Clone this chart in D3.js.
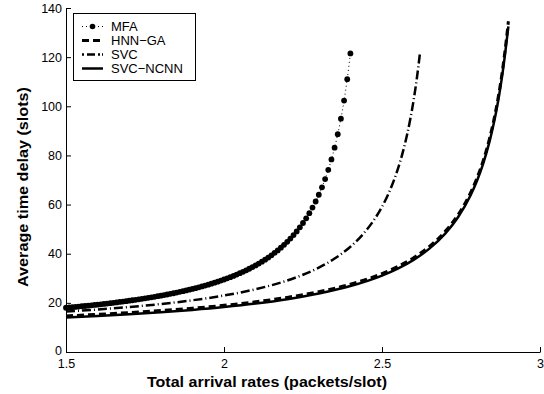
<!DOCTYPE html>
<html>
<head>
<meta charset="utf-8">
<script src="https://cdn.jsdelivr.net/npm/d3@7"></script>
<style>
  body { margin: 0; background: white; }
  svg { font-family: "Liberation Sans", Arial, sans-serif; }
</style>
</head>
<body>
<div id="chart"></div>
<script>
// values
const seriesNames = ["MFA", "HNN\u2212GA", "SVC", "SVC\u2212NCNN"];

// MFA: one point every 0.01 from 1.5 to 2.4
const mfaX = d3.range(0, 91).map(i => +(1.5 + i * 0.01).toFixed(2));
const mfaY = [18.0, 18.12, 18.23, 18.36, 18.48, 18.61, 18.73, 18.87, 19.0, 19.14,
  19.28, 19.42, 19.57, 19.72, 19.87, 20.03, 20.19, 20.36, 20.52, 20.70,
  20.88, 21.06, 21.24, 21.44, 21.63, 21.83, 22.04, 22.25, 22.47, 22.70,
  22.93, 23.17, 23.41, 23.66, 23.92, 24.19, 24.47, 24.75, 25.05, 25.35,
  25.67, 25.99, 26.33, 26.68, 27.04, 27.41, 27.80, 28.20, 28.62, 29.05,
  29.5, 29.97, 30.46, 30.97, 31.5, 32.06, 32.64, 33.24, 33.88, 34.55,
  35.25, 35.99, 36.76, 37.58, 38.44, 39.36, 40.32, 41.35, 42.44, 43.60,
  44.83, 46.16, 47.57, 49.09, 50.73, 52.5, 54.42, 56.5, 58.77, 61.26,
  64.0, 67.03, 70.39, 74.15, 78.38, 83.17, 88.64, 94.96, 102.33, 111.05, 121.5];

const hnnX = [1.5, 1.6, 1.7, 1.8, 1.9, 2.0, 2.1, 2.2, 2.3, 2.4, 2.5, 2.55, 2.6, 2.65, 2.7, 2.74, 2.78, 2.8, 2.82, 2.84, 2.85, 2.86, 2.87, 2.88, 2.89, 2.9];
const hnnY = [14.70, 15.31, 16.02, 16.85, 17.83, 19.00, 20.43, 22.23, 24.53, 27.60, 31.90, 34.77, 38.35, 42.96, 49.10, 55.72, 64.74, 70.60, 77.77, 86.73, 92.10, 98.24, 105.33, 113.60, 123.37, 134.6];

const svcX = [1.5, 1.6, 1.7, 1.8, 1.9, 2.0, 2.1, 2.2, 2.25, 2.3, 2.35, 2.4, 2.44, 2.48, 2.5, 2.52, 2.54, 2.56, 2.57, 2.58, 2.59, 2.6, 2.61, 2.62];
const svcY = [16.48, 17.31, 18.32, 19.53, 21.05, 22.99, 25.55, 29.10, 31.44, 34.34, 38.02, 42.85, 47.96, 54.77, 59.10, 64.30, 70.66, 78.60, 83.37, 88.81, 95.10, 102.43, 111.10, 121.5];

const ncnnX = [1.5, 1.6, 1.7, 1.8, 1.9, 2.0, 2.1, 2.2, 2.3, 2.4, 2.5, 2.55, 2.6, 2.65, 2.7, 2.74, 2.78, 2.8, 2.82, 2.84, 2.85, 2.86, 2.87, 2.88, 2.89, 2.9];
const ncnnY = [14.03, 14.64, 15.35, 16.17, 17.14, 18.30, 19.72, 21.50, 23.79, 26.83, 31.10, 33.94, 37.50, 42.07, 48.17, 54.73, 63.68, 69.50, 76.61, 85.50, 90.83, 96.93, 103.96, 112.17, 121.86, 132.5];

const xTicks = [1.5, 2, 2.5, 3];
const yTicks = [0, 20, 40, 60, 80, 100, 120, 140];

const width = 544, height = 394;
const plotLeft = 66, plotRight = 540, plotTop = 8, plotBottom = 352;

const svg = d3.select("#chart").append("svg")
    .attr("width", width)
    .attr("height", height)
    .style("background", "white");

const x = d3.scaleLinear().domain([1.5, 3]).range([plotLeft, plotRight]);
const y = d3.scaleLinear().domain([0, 140]).range([plotBottom, plotTop]);

// axes, ticks pointing inward, no box
const xAxis = d3.axisBottom(x).tickValues(xTicks).tickSizeInner(-5).tickSizeOuter(0).tickPadding(7)
    .tickFormat(d3.format("~g"));
const yAxis = d3.axisLeft(y).tickValues(yTicks).tickSizeInner(-5).tickSizeOuter(0).tickPadding(4);

const gx = svg.append("g").attr("transform", "translate(0," + plotBottom + ")").call(xAxis);
const gy = svg.append("g").attr("transform", "translate(" + plotLeft + ",0)").call(yAxis);
[gx, gy].forEach(g => {
    g.selectAll("path.domain").attr("stroke", "#000").attr("stroke-width", 1);
    g.selectAll("line").attr("stroke", "#000");
    g.selectAll("text").attr("fill", "#000").style("font-size", "12.5px").style("font-family", "Liberation Sans, Arial, sans-serif");
});
gy.select(".tick text").attr("dy", "0.2em"); // keep "0" clear of "1.5"

// axis titles
svg.append("text")
    .attr("x", 267).attr("y", 387)
    .attr("text-anchor", "middle")
    .attr("textLength", 240).attr("lengthAdjust", "spacingAndGlyphs")
    .style("font-weight", "bold").style("font-size", "14px")
    .text("Total arrival rates (packets/slot)");

svg.append("text")
    .attr("transform", "translate(28,187) rotate(-90)")
    .attr("text-anchor", "middle")
    .attr("textLength", 200).attr("lengthAdjust", "spacingAndGlyphs")
    .style("font-weight", "bold").style("font-size", "14px")
    .text("Average time delay (slots)");

const line = d3.line().x(d => x(d[0])).y(d => y(d[1])).curve(d3.curveMonotoneX);
const zip = (xs, ys) => xs.map((v, i) => [v, ys[i]]);

const plot = svg.append("g");

// SVC-NCNN solid
plot.append("path").datum(zip(ncnnX, ncnnY))
    .attr("d", line).attr("fill", "none").attr("stroke", "#000").attr("stroke-width", 2.5);

// HNN-GA dashed
plot.append("path").datum(zip(hnnX, hnnY))
    .attr("d", line).attr("fill", "none").attr("stroke", "#000").attr("stroke-width", 3)
    .attr("stroke-dasharray", "7,4");

// SVC dash-dot
plot.append("path").datum(zip(svcX, svcY))
    .attr("d", line).attr("fill", "none").attr("stroke", "#000").attr("stroke-width", 2.5)
    .attr("stroke-dasharray", "9,3,1,3");

// MFA dotted line with dot markers
const mfa = zip(mfaX, mfaY);
plot.append("path").datum(mfa)
    .attr("d", line).attr("fill", "none").attr("stroke", "#000").attr("stroke-width", 1)
    .attr("stroke-dasharray", "1,3");
plot.selectAll("circle.mfa").data(mfa).enter().append("circle")
    .attr("class", "mfa")
    .attr("cx", d => x(d[0])).attr("cy", d => y(d[1]))
    .attr("r", 2.9).attr("fill", "#000");

// legend
const legend = svg.append("g");
legend.append("rect")
    .attr("x", 73.5).attr("y", 13.5).attr("width", 122).attr("height", 67)
    .attr("fill", "white").attr("stroke", "#000").attr("stroke-width", 1);

const rowY = [26.5, 40.5, 54.5, 68.5];
const styles = [
    {dash: "1,3", w: 1, dot: true},
    {dash: "7,4", w: 3},
    {dash: "2,3,8,3,2", w: 2.5},
    {dash: null, w: 2.5}
];
seriesNames.forEach((name, i) => {
    const ly = rowY[i];
    const s = styles[i];
    const ln = legend.append("line")
        .attr("x1", 82).attr("x2", 103).attr("y1", ly).attr("y2", ly)
        .attr("stroke", "#000").attr("stroke-width", s.w);
    if (s.dash) ln.attr("stroke-dasharray", s.dash);
    if (s.dot) legend.append("circle").attr("cx", 92.5).attr("cy", ly).attr("r", 2.8).attr("fill", "#000");
    legend.append("text")
        .attr("x", 111).attr("y", ly + 4.5)
        .style("font-size", "13px")
        .text(name);
});
</script>
</body>
</html>
